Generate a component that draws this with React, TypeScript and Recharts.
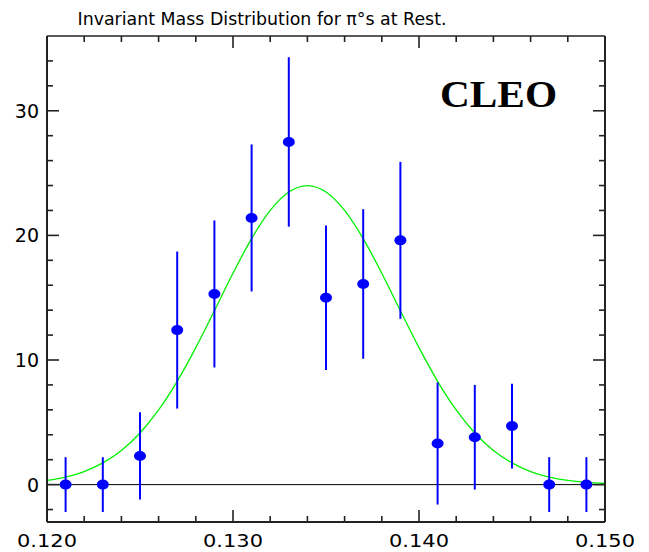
import { ComposedChart, Line, Scatter, ErrorBar, XAxis, YAxis, ReferenceLine } from 'recharts';

// measured bins (GeV)
const massBins = [0.121, 0.123, 0.125, 0.127, 0.129, 0.131, 0.133, 0.135, 0.137, 0.139, 0.141, 0.143, 0.145, 0.147, 0.149];
const counts = [0, 0, 2.3, 12.4, 15.3, 21.4, 27.5, 15.0, 16.1, 19.6, 3.3, 3.8, 4.7, 0, 0];
const countErrors = [2.2, 2.2, 3.5, 6.3, 5.9, 5.9, 6.8, 5.8, 6.0, 6.3, 4.9, 4.2, 3.4, 2.2, 2.2];

// fitted curve
const fitMass = [
  0.120, 0.121, 0.122, 0.123, 0.124, 0.125, 0.126, 0.127, 0.128, 0.129, 0.130,
  0.131, 0.132, 0.133, 0.134, 0.135, 0.136, 0.137, 0.138, 0.139, 0.140,
  0.141, 0.142, 0.143, 0.144, 0.145, 0.146, 0.147, 0.148, 0.149, 0.150,
];
const fitCounts = [
  0.34, 0.61, 1.05, 1.74, 2.74, 4.14, 5.99, 8.29, 10.99, 13.95, 16.96,
  19.74, 22.0, 23.48, 24.0, 23.48, 22.0, 19.74, 16.96, 13.95, 10.99,
  8.29, 5.99, 4.14, 2.74, 1.74, 1.05, 0.61, 0.34, 0.18, 0.09,
];

const xTicks = [
  0.12, 0.122, 0.124, 0.126, 0.128, 0.13, 0.132, 0.134, 0.136, 0.138,
  0.14, 0.142, 0.144, 0.146, 0.148, 0.15,
];
const yTicks = [-2, 0, 2, 4, 6, 8, 10, 12, 14, 16, 18, 20, 22, 24, 26, 28, 30, 32, 34];

const X_DOMAIN: [number, number] = [0.12, 0.15];
const Y_DOMAIN: [number, number] = [-3, 36];

const points = massBins.map((x, i) => ({ x, y: counts[i], err: countErrors[i] }));
const fit = fitMass.map((x, i) => ({ x, y: fitCounts[i] }));

const FONT = '"DejaVu Sans", sans-serif';
const AXIS_COLOR = '#222';

const W = 649;
const H = 552;

const isMajorX = (v: number) => Math.abs(v * 100 - Math.round(v * 100)) < 1e-6;
const isMajorY = (v: number) => v % 10 === 0;
const tickLen = (major: boolean) => (major ? 12 : 6);

const tickStroke = { stroke: AXIS_COLOR, strokeWidth: 1.6 };

// inward ticks on every side, labels on bottom and left
const topTick = (p: any) => {
  const x = Number(p.x);
  const y = Number(p.y);
  const len = tickLen(isMajorX(Number(p.payload.value)));
  return <line x1={x} y1={y} x2={x} y2={y + len} {...tickStroke} />;
};

const rightTick = (p: any) => {
  const x = Number(p.x);
  const y = Number(p.y);
  const len = tickLen(isMajorY(Number(p.payload.value)));
  return <line x1={x} y1={y} x2={x - len} y2={y} {...tickStroke} />;
};

const bottomTick = (p: any) => {
  const x = Number(p.x);
  const y = Number(p.y);
  const v = Number(p.payload.value);
  const major = isMajorX(v);
  return (
    <g>
      <line x1={x} y1={y} x2={x} y2={y - tickLen(major)} {...tickStroke} />
      {major && (
        <text x={x} y={y + 25} textAnchor="middle" fontSize={18} fontFamily={FONT} fill="#000" textLength={60} lengthAdjust="spacingAndGlyphs">
          {v.toFixed(3)}
        </text>
      )}
    </g>
  );
};

const leftTick = (p: any) => {
  const x = Number(p.x);
  const y = Number(p.y);
  const v = Number(p.payload.value);
  const major = isMajorY(v);
  return (
    <g>
      <line x1={x} y1={y} x2={x + tickLen(major)} y2={y} {...tickStroke} />
      {major && (
        <text x={x - 8} y={y + 7} textAnchor="end" fontSize={19} fontFamily={FONT} fill="#000">
          {String(v)}
        </text>
      )}
    </g>
  );
};

const Dot = (p: any) => <ellipse cx={p.cx} cy={p.cy} rx={6} ry={5} fill="#0000ff" />;

export default function App() {
  const axisLine = { stroke: AXIS_COLOR, strokeWidth: 2 };
  return (
    <div style={{ position: 'absolute', left: 0, top: 0, width: W, height: H, background: '#fff' }}>
      <ComposedChart width={W} height={H} margin={{ top: 35, right: 43, bottom: 0, left: 0 }}>
        <XAxis
          dataKey="x"
          type="number"
          domain={X_DOMAIN}
          ticks={xTicks}
          interval={0}
          allowDataOverflow
          height={30}
          tickLine={false}
          tickSize={0}
          tickMargin={0}
          axisLine={axisLine}
          tick={bottomTick}
        />
        <XAxis
          xAxisId="top"
          orientation="top"
          dataKey="x"
          type="number"
          domain={X_DOMAIN}
          ticks={xTicks}
          interval={0}
          allowDataOverflow
          height={1}
          tickLine={false}
          tickSize={0}
          tickMargin={0}
          axisLine={{ stroke: AXIS_COLOR, strokeWidth: 1.5 }}
          tick={topTick}
        />
        <YAxis
          type="number"
          domain={Y_DOMAIN}
          ticks={yTicks}
          interval={0}
          allowDataOverflow
          width={47}
          tickLine={false}
          tickSize={0}
          tickMargin={0}
          axisLine={axisLine}
          tick={leftTick}
        />
        <YAxis
          yAxisId="right"
          orientation="right"
          type="number"
          domain={Y_DOMAIN}
          ticks={yTicks}
          interval={0}
          allowDataOverflow
          width={1}
          tickLine={false}
          tickSize={0}
          tickMargin={0}
          axisLine={axisLine}
          tick={rightTick}
        />
        <ReferenceLine y={0} stroke="#000" strokeWidth={1} />
        <Line
          data={fit}
          dataKey="y"
          type="monotone"
          stroke="#00f000"
          strokeWidth={1.3}
          dot={false}
          activeDot={false}
          isAnimationActive={false}
        />
        <Scatter data={points} dataKey="y" shape={Dot} isAnimationActive={false}>
          <ErrorBar dataKey="err" direction="y" width={0} stroke="#0000ff" strokeWidth={2} isAnimationActive={false} />
        </Scatter>
      </ComposedChart>

      <svg width={W} height={H} style={{ position: 'absolute', left: 0, top: 0, pointerEvents: 'none' }}>
        <text x={262} y={25} textAnchor="middle" fontSize={18} fontFamily={FONT} fill="#000" textLength={369} lengthAdjust="spacingAndGlyphs">
          Invariant Mass Distribution for π°s at Rest.
        </text>
        <text x={440} y={107} fontSize={37} fontWeight="bold" fontFamily='"Liberation Serif", "Times New Roman", serif' fill="#000" textLength={117} lengthAdjust="spacingAndGlyphs">
          CLEO
        </text>
      </svg>
    </div>
  );
}
